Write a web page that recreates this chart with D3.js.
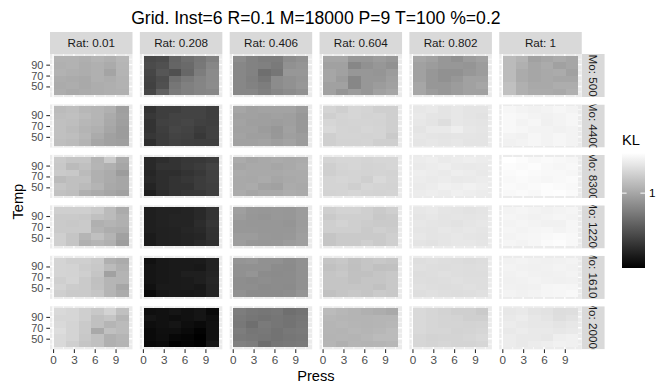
<!DOCTYPE html>
<html>
<head>
<meta charset="utf-8">
<script src="https://cdn.jsdelivr.net/npm/d3@7"></script>
<style>
  body { margin: 0; background: #ffffff; }
  svg { display: block; font-family: "Liberation Sans", Arial, Helvetica, sans-serif; }
</style>
</head>
<body>
<svg id="chart" width="656" height="387"></svg>
<script>
// ---- data -------------------------------------------------------------
const rats = ["0.01", "0.208", "0.406", "0.604", "0.802", "1"];
const mos = ["500", "4400", "8300", "12200", "16100", "20000"];
const pressVals = [1, 2.8, 4.6, 6.4, 8.2, 10];
const tempRows = [100, 88, 76, 64, 52, 40];          // grid rows, top to bottom
const pressTicks = [0, 3, 6, 9];
const tempTicks = [50, 70, 90];
const klTicks = [1];

// KL for each Mo level: one 6x6 block per Rat (rows follow tempRows, columns follow pressVals)
const klMo500 = [
  [[1.07,1.07,1.05,1.08,1.06,1.10],[1.06,1.07,1.04,1.06,1.03,1.09],[1.07,1.05,1.04,1.06,0.99,1.08],[1.04,1.03,1.02,1.06,1.04,1.07],[1.03,1.04,1.02,1.04,1.05,1.07],[1.04,1.02,1.03,1.04,1.05,1.06]],
  [[0.45,0.47,0.61,0.67,0.72,0.78],[0.47,0.50,0.62,0.65,0.73,0.82],[0.44,0.53,0.50,0.63,0.76,0.84],[0.42,0.48,0.68,0.74,0.80,0.84],[0.41,0.50,0.72,0.78,0.81,0.85],[0.44,0.59,0.74,0.78,0.81,0.82]],
  [[0.85,0.79,0.76,0.76,0.85,0.88],[0.82,0.79,0.78,0.74,0.88,0.90],[0.82,0.79,0.68,0.72,0.91,0.91],[0.82,0.78,0.72,0.85,0.88,0.90],[0.82,0.79,0.76,0.85,0.88,0.91],[0.82,0.82,0.78,0.82,0.85,0.88]],
  [[1.00,1.00,0.91,0.91,0.94,0.91],[0.97,0.97,0.82,0.88,0.91,0.88],[1.00,0.97,0.91,0.91,0.90,0.94],[1.00,0.94,0.82,0.91,0.91,0.96],[0.97,0.97,0.82,0.91,0.94,0.97],[0.97,0.90,0.94,0.91,0.97,1.00]],
  [[1.00,0.97,0.91,0.88,0.94,0.97],[0.97,0.94,0.91,0.91,0.90,0.94],[0.97,0.91,0.88,0.88,0.91,0.94],[0.97,0.91,0.88,0.91,0.97,0.97],[1.00,0.91,0.91,0.94,0.97,1.00],[1.00,0.94,0.91,0.94,0.97,0.97]],
  [[1.12,1.08,0.97,1.00,1.03,1.00],[1.12,1.06,1.00,1.03,0.97,1.00],[1.12,1.03,1.00,1.02,1.03,0.97],[1.12,1.03,1.00,1.02,1.00,1.00],[1.15,1.06,1.02,1.02,1.04,1.04],[1.15,1.06,1.03,1.03,1.02,1.06]]
];
const klMo4400 = [
  [[1.12,1.14,1.10,1.09,1.06,0.96],[1.14,1.15,1.12,1.09,1.03,0.97],[1.15,1.14,1.10,1.08,1.02,0.96],[1.15,1.12,1.08,1.06,1.00,0.94],[1.15,1.14,1.10,1.03,0.97,0.94],[1.14,1.12,1.08,1.00,0.97,0.96]],
  [[0.33,0.39,0.39,0.42,0.42,0.39],[0.36,0.39,0.42,0.42,0.42,0.39],[0.33,0.41,0.42,0.44,0.41,0.40],[0.33,0.39,0.44,0.42,0.38,0.41],[0.35,0.38,0.42,0.41,0.36,0.41],[0.30,0.38,0.41,0.40,0.39,0.39]],
  [[1.00,0.97,0.98,0.98,0.98,0.94],[0.97,0.97,0.96,0.97,0.96,0.92],[0.98,0.96,0.96,0.95,0.96,0.92],[0.97,0.97,0.94,0.91,0.97,0.92],[0.98,0.96,0.96,0.92,0.96,0.94],[0.97,0.97,0.98,0.96,0.98,0.94]],
  [[1.27,1.24,1.28,1.27,1.24,1.24],[1.24,1.27,1.28,1.26,1.27,1.24],[1.28,1.26,1.27,1.27,1.26,1.24],[1.30,1.27,1.26,1.28,1.27,1.24],[1.24,1.27,1.27,1.26,1.27,1.21],[1.24,1.26,1.26,1.27,1.24,1.24]],
  [[1.38,1.39,1.36,1.38,1.36,1.36],[1.39,1.37,1.36,1.38,1.36,1.35],[1.38,1.36,1.33,1.38,1.37,1.36],[1.36,1.39,1.39,1.42,1.38,1.37],[1.38,1.37,1.36,1.37,1.37,1.36],[1.37,1.38,1.37,1.38,1.36,1.36]],
  [[1.47,1.45,1.44,1.45,1.47,1.45],[1.48,1.47,1.45,1.44,1.45,1.47],[1.48,1.45,1.47,1.43,1.45,1.47],[1.48,1.47,1.45,1.45,1.44,1.45],[1.45,1.44,1.47,1.45,1.47,1.45],[1.44,1.45,1.47,1.45,1.47,1.45]]
];
const klMo8300 = [
  [[1.21,1.18,1.18,1.08,1.21,1.03],[1.20,1.12,1.15,1.09,1.06,1.00],[1.21,1.20,1.12,1.06,1.03,0.94],[1.12,1.15,1.15,1.06,1.03,1.00],[1.18,1.15,1.12,1.08,1.02,1.00],[1.16,1.14,1.06,1.03,1.00,0.97]],
  [[0.27,0.30,0.33,0.35,0.36,0.38],[0.27,0.33,0.33,0.36,0.38,0.42],[0.25,0.30,0.30,0.33,0.36,0.41],[0.27,0.30,0.33,0.35,0.38,0.41],[0.24,0.30,0.33,0.33,0.38,0.40],[0.21,0.29,0.33,0.35,0.36,0.39]],
  [[1.03,1.00,1.02,1.03,1.02,1.03],[1.00,1.02,1.02,1.00,1.02,1.04],[1.03,1.02,1.02,1.02,1.03,1.03],[1.02,1.01,1.03,1.00,1.02,1.03],[1.02,1.03,0.98,0.97,1.03,1.02],[1.03,1.00,1.02,1.02,1.04,1.03]],
  [[1.27,1.28,1.28,1.27,1.28,1.28],[1.24,1.27,1.28,1.26,1.27,1.28],[1.24,1.26,1.27,1.26,1.27,1.26],[1.27,1.28,1.27,1.24,1.30,1.27],[1.27,1.27,1.24,1.28,1.27,1.26],[1.26,1.27,1.28,1.27,1.26,1.27]],
  [[1.41,1.42,1.40,1.41,1.42,1.41],[1.40,1.41,1.42,1.40,1.39,1.40],[1.42,1.41,1.40,1.42,1.41,1.39],[1.41,1.40,1.41,1.39,1.40,1.41],[1.40,1.41,1.43,1.42,1.44,1.42],[1.41,1.42,1.41,1.43,1.42,1.41]],
  [[1.52,1.50,1.48,1.49,1.48,1.47],[1.50,1.49,1.50,1.48,1.47,1.48],[1.49,1.50,1.49,1.48,1.48,1.47],[1.48,1.49,1.48,1.47,1.48,1.49],[1.49,1.48,1.49,1.50,1.49,1.48],[1.48,1.49,1.48,1.50,1.51,1.49]]
];
const klMo12200 = [
  [[1.24,1.24,1.24,1.21,1.12,1.03],[1.21,1.21,1.20,1.15,1.12,1.06],[1.21,1.20,1.21,1.06,1.08,1.06],[1.21,1.21,1.21,1.08,1.04,1.03],[1.24,1.18,1.09,1.15,1.08,0.97],[1.24,1.18,1.06,1.09,1.06,0.94]],
  [[0.21,0.23,0.23,0.24,0.27,0.33],[0.21,0.23,0.24,0.24,0.27,0.33],[0.21,0.23,0.24,0.24,0.29,0.35],[0.21,0.22,0.23,0.25,0.27,0.33],[0.19,0.22,0.23,0.24,0.25,0.32],[0.18,0.22,0.23,0.24,0.27,0.30]],
  [[0.96,0.92,0.91,0.92,0.91,0.94],[0.94,0.91,0.90,0.92,0.91,0.94],[0.92,0.91,0.91,0.91,0.90,0.94],[0.92,0.92,0.91,0.91,0.91,0.95],[0.94,0.94,0.92,0.91,0.92,0.96],[0.95,0.92,0.91,0.92,0.94,0.96]],
  [[1.24,1.26,1.26,1.24,1.21,1.24],[1.21,1.24,1.24,1.24,1.20,1.21],[1.24,1.26,1.24,1.22,1.21,1.21],[1.24,1.24,1.24,1.21,1.24,1.22],[1.18,1.21,1.21,1.21,1.21,1.24],[1.18,1.21,1.21,1.24,1.21,1.24]],
  [[1.38,1.39,1.37,1.36,1.35,1.36],[1.37,1.38,1.36,1.37,1.36,1.37],[1.38,1.37,1.36,1.35,1.37,1.38],[1.37,1.36,1.38,1.37,1.38,1.37],[1.38,1.36,1.37,1.38,1.37,1.36],[1.36,1.35,1.37,1.38,1.38,1.37]],
  [[1.45,1.46,1.45,1.44,1.45,1.46],[1.46,1.45,1.44,1.45,1.46,1.45],[1.45,1.46,1.45,1.44,1.44,1.47],[1.46,1.45,1.46,1.47,1.45,1.47],[1.45,1.46,1.47,1.48,1.49,1.48],[1.46,1.45,1.47,1.49,1.50,1.48]]
];
const klMo16100 = [
  [[1.27,1.24,1.24,1.21,1.06,1.03],[1.27,1.26,1.22,1.20,1.12,1.06],[1.27,1.26,1.24,1.18,0.97,1.08],[1.24,1.27,1.21,1.15,1.09,1.08],[1.26,1.22,1.21,1.16,1.09,1.00],[1.24,1.21,1.21,1.18,1.09,1.03]],
  [[0.13,0.17,0.18,0.18,0.19,0.23],[0.15,0.17,0.18,0.18,0.17,0.23],[0.15,0.17,0.18,0.21,0.21,0.24],[0.15,0.17,0.18,0.19,0.21,0.25],[0.13,0.18,0.18,0.19,0.17,0.24],[0.09,0.15,0.17,0.17,0.18,0.24]],
  [[0.90,0.91,0.88,0.88,0.85,0.88],[0.88,0.88,0.88,0.85,0.84,0.88],[0.88,0.90,0.85,0.84,0.85,0.88],[0.86,0.85,0.86,0.85,0.85,0.88],[0.86,0.86,0.84,0.85,0.84,0.88],[0.88,0.85,0.85,0.85,0.86,0.90]],
  [[1.18,1.20,1.16,1.18,1.20,1.18],[1.16,1.18,1.15,1.18,1.15,1.16],[1.18,1.20,1.16,1.16,1.18,1.20],[1.18,1.18,1.16,1.18,1.18,1.20],[1.18,1.18,1.18,1.18,1.16,1.20],[1.16,1.18,1.20,1.18,1.21,1.20]],
  [[1.33,1.34,1.33,1.32,1.31,1.32],[1.34,1.33,1.32,1.33,1.32,1.33],[1.32,1.33,1.34,1.33,1.32,1.32],[1.33,1.32,1.33,1.34,1.33,1.33],[1.34,1.33,1.32,1.33,1.34,1.33],[1.33,1.34,1.33,1.32,1.33,1.34]],
  [[1.44,1.45,1.44,1.43,1.44,1.45],[1.45,1.44,1.43,1.44,1.45,1.44],[1.44,1.45,1.44,1.43,1.44,1.45],[1.43,1.44,1.45,1.44,1.43,1.44],[1.44,1.43,1.44,1.46,1.47,1.46],[1.45,1.44,1.45,1.46,1.47,1.48]]
];
const klMo20000 = [
  [[1.30,1.28,1.24,1.20,1.26,1.15],[1.28,1.28,1.24,1.15,1.18,1.09],[1.30,1.27,1.21,1.15,1.09,1.12],[1.32,1.27,1.21,1.02,1.15,1.12],[1.30,1.27,1.20,1.15,1.06,1.09],[1.30,1.24,1.18,1.15,1.06,1.08]],
  [[0.12,0.13,0.15,0.13,0.15,0.09],[0.15,0.13,0.11,0.13,0.15,0.12],[0.11,0.13,0.15,0.11,0.09,0.13],[0.09,0.12,0.12,0.09,0.05,0.13],[0.09,0.11,0.07,0.06,0.03,0.13],[0.07,0.09,0.03,0.05,0.03,0.15]],
  [[0.76,0.73,0.72,0.73,0.68,0.70],[0.74,0.72,0.70,0.72,0.70,0.72],[0.73,0.68,0.74,0.72,0.70,0.73],[0.76,0.72,0.73,0.70,0.73,0.74],[0.74,0.73,0.72,0.70,0.72,0.73],[0.78,0.76,0.67,0.72,0.73,0.74]],
  [[1.12,1.10,1.08,1.06,1.04,1.02],[1.10,1.09,1.08,1.08,1.09,1.09],[1.09,1.10,1.09,1.08,1.09,1.10],[1.09,1.08,1.10,1.09,1.10,1.12],[1.08,1.09,1.08,1.10,1.12,1.12],[1.09,1.06,1.09,1.08,1.09,1.10]],
  [[1.30,1.28,1.26,1.24,1.24,1.21],[1.30,1.28,1.27,1.26,1.24,1.24],[1.30,1.28,1.27,1.27,1.26,1.27],[1.30,1.28,1.28,1.26,1.27,1.28],[1.28,1.26,1.27,1.27,1.28,1.30],[1.28,1.27,1.28,1.27,1.27,1.28]],
  [[1.38,1.39,1.36,1.35,1.32,1.33],[1.39,1.41,1.38,1.36,1.33,1.35],[1.41,1.39,1.38,1.38,1.36,1.38],[1.39,1.41,1.39,1.39,1.38,1.39],[1.41,1.39,1.39,1.38,1.42,1.43],[1.41,1.39,1.41,1.42,1.44,1.43]]
];
const klByMo = [klMo500, klMo4400, klMo8300, klMo12200, klMo16100, klMo20000];

// ---- layout -----------------------------------------------------------
const svg = d3.select("#chart");
const panelW = 82.5, panelH = 43.1, gap = 7.35;
const panelsLeft = 50, panelsTop = 54;
const stripTopH = 22, stripRightW = 23;
const panelX = c => panelsLeft + c * (panelW + gap);
const panelY = r => panelsTop + r * (panelH + gap);
const panelsRight = panelX(rats.length - 1) + panelW;
const panelsBottom = panelY(mos.length - 1) + panelH;

// tidy cell list
const cells = [];
mos.forEach((mo, r) => rats.forEach((rat, c) => tempRows.forEach((temp, i) =>
  pressVals.forEach((press, j) => cells.push({ r, c, mo, rat, temp, press, kl: klByMo[r][c][i][j] })))));

// tile sizes from the grid spacing, limits expanded by 5% like a continuous scale
const tileW = pressVals[1] - pressVals[0];
const tileH = tempRows[0] - tempRows[1];
function expanded(lo, hi) { const d = (hi - lo) * 0.05; return [lo - d, hi + d]; }
const xDom = expanded(d3.min(pressVals) - tileW / 2, d3.max(pressVals) + tileW / 2);
const yDom = expanded(d3.min(tempRows) - tileH / 2, d3.max(tempRows) + tileH / 2);
const x = d3.scaleLinear().domain(xDom).range([0, panelW]);
const y = d3.scaleLinear().domain(yDom).range([panelH, 0]);

const klExtent = d3.extent(cells, d => d.kl);
const fill = d3.scaleLinear().domain(klExtent).range(["#000000", "#ffffff"]).interpolate(d3.interpolateRgb);

// minor breaks half way between major ones
function minorBreaks(major, dom) {
  const step = major[1] - major[0];
  const out = [];
  for (let v = major[0] - step / 2; v <= dom[1]; v += step) if (v >= dom[0]) out.push(v);
  return out;
}
const xMinor = minorBreaks(pressTicks, xDom);
const yMinor = minorBreaks(tempTicks, yDom);

// ---- title --------------------------------------------------------------
svg.append("text")
  .attr("x", (panelsLeft + panelsRight) / 2).attr("y", 23.5)
  .attr("text-anchor", "middle").attr("font-size", 17.6).attr("fill", "#000")
  .text("Grid. Inst=6 R=0.1 M=18000 P=9 T=100 %=0.2");

// ---- panels -------------------------------------------------------------
const defs = svg.append("defs");
mos.forEach((mo, r) => rats.forEach((rat, c) => {
  const g = svg.append("g").attr("transform", `translate(${panelX(c)},${panelY(r)})`);
  g.append("rect").attr("width", panelW).attr("height", panelH).attr("fill", "#EBEBEB");
  // grid lines
  g.selectAll(".xmin").data(xMinor).join("line")
    .attr("x1", d => x(d)).attr("x2", d => x(d)).attr("y1", 0).attr("y2", panelH)
    .attr("stroke", "#fff").attr("stroke-width", 0.7);
  g.selectAll(".ymin").data(yMinor).join("line")
    .attr("y1", d => y(d)).attr("y2", d => y(d)).attr("x1", 0).attr("x2", panelW)
    .attr("stroke", "#fff").attr("stroke-width", 0.7);
  g.selectAll(".xmaj").data(pressTicks).join("line")
    .attr("x1", d => x(d)).attr("x2", d => x(d)).attr("y1", 0).attr("y2", panelH)
    .attr("stroke", "#fff").attr("stroke-width", 1.4);
  g.selectAll(".ymaj").data(tempTicks).join("line")
    .attr("y1", d => y(d)).attr("y2", d => y(d)).attr("x1", 0).attr("x2", panelW)
    .attr("stroke", "#fff").attr("stroke-width", 1.4);
  // tiles
  g.selectAll("rect.tile").data(cells.filter(d => d.r === r && d.c === c)).join("rect")
    .attr("class", "tile")
    .attr("x", d => x(d.press - tileW / 2))
    .attr("y", d => y(d.temp + tileH / 2))
    .attr("width", x(tileW) - x(0))
    .attr("height", y(0) - y(tileH))
    .attr("fill", d => fill(d.kl))
    .attr("shape-rendering", "crispEdges");
}));

// ---- strips -----------------------------------------------------------
rats.forEach((rat, c) => {
  svg.append("rect").attr("x", panelX(c)).attr("y", panelsTop - stripTopH)
    .attr("width", panelW).attr("height", stripTopH).attr("fill", "#D9D9D9");
  svg.append("text").attr("x", panelX(c) + panelW / 2).attr("y", panelsTop - stripTopH / 2)
    .attr("dy", "0.35em").attr("text-anchor", "middle").attr("font-size", 11.7)
    .attr("fill", "#1A1A1A").text("Rat: " + rat);
});
mos.forEach((mo, r) => {
  const id = "strip-clip-" + r;
  defs.append("clipPath").attr("id", id).append("rect")
    .attr("x", panelsRight).attr("y", panelY(r)).attr("width", stripRightW).attr("height", panelH);
  const g = svg.append("g").attr("clip-path", `url(#${id})`);
  g.append("rect").attr("x", panelsRight).attr("y", panelY(r))
    .attr("width", stripRightW).attr("height", panelH).attr("fill", "#D9D9D9");
  const cx = panelsRight + stripRightW / 2, cy = panelY(r) + panelH / 2;
  g.append("text").attr("transform", `translate(${cx},${cy}) rotate(90)`)
    .attr("dy", "0.35em").attr("text-anchor", "middle").attr("font-size", 11.7)
    .attr("fill", "#1A1A1A").text("Mo: " + mo);
});

// ---- axes -------------------------------------------------------------
function styleAxis(sel, size) {
  sel.select(".domain").remove();
  sel.selectAll(".tick line").attr("stroke", "#333333").attr("stroke-width", 1.1);
  sel.selectAll(".tick text").attr("fill", "#4D4D4D").attr("font-size", size)
    .attr("font-family", "\"Liberation Sans\", Arial, Helvetica, sans-serif");
}
mos.forEach((mo, r) => {
  svg.append("g").attr("transform", `translate(${panelsLeft},${panelY(r)})`)
    .call(d3.axisLeft(y).tickValues(tempTicks).tickSize(3.7).tickPadding(2.9).tickFormat(d3.format("d")))
    .call(styleAxis, 11);
});
rats.forEach((rat, c) => {
  svg.append("g").attr("transform", `translate(${panelX(c)},${panelsBottom})`)
    .call(d3.axisBottom(x).tickValues(pressTicks).tickSize(3.7).tickPadding(2.9).tickFormat(d3.format("d")))
    .call(styleAxis, 11.7);
});

// axis titles
svg.append("text").attr("x", (panelsLeft + panelsRight) / 2).attr("y", 380.5)
  .attr("text-anchor", "middle").attr("font-size", 14.67).attr("fill", "#000").text("Press");
svg.append("text").attr("transform", `translate(23,${(panelsTop + panelsBottom) / 2}) rotate(-90)`)
  .attr("text-anchor", "middle").attr("font-size", 14.67).attr("fill", "#000").text("Temp");

// ---- colour bar legend -----------------------------------------------
const barX = 622, barTop = 153, barW = 23, barH = 115;
const grad = defs.append("linearGradient").attr("id", "kl-grad")
  .attr("x1", 0).attr("y1", 1).attr("x2", 0).attr("y2", 0);
d3.range(0, 1.0001, 0.05).forEach(t => {
  grad.append("stop").attr("offset", t)
    .attr("stop-color", fill(klExtent[0] + t * (klExtent[1] - klExtent[0])));
});
svg.append("text").attr("x", barX).attr("y", barTop - 8).attr("font-size", 14.67)
  .attr("fill", "#000").text("KL");
svg.append("rect").attr("x", barX).attr("y", barTop).attr("width", barW).attr("height", barH)
  .attr("fill", "url(#kl-grad)");
const legY = d3.scaleLinear().domain(klExtent).range([barTop + barH, barTop]);
klTicks.forEach(v => {
  const ty = legY(v);
  svg.append("line").attr("x1", barX).attr("x2", barX + barW / 5).attr("y1", ty).attr("y2", ty)
    .attr("stroke", "#fff").attr("stroke-width", 1);
  svg.append("line").attr("x1", barX + barW * 4 / 5).attr("x2", barX + barW).attr("y1", ty).attr("y2", ty)
    .attr("stroke", "#fff").attr("stroke-width", 1);
  svg.append("text").attr("x", barX + barW + 4).attr("y", ty).attr("dy", "0.35em")
    .attr("font-size", 11.7).attr("fill", "#000").text(d3.format("d")(v));
});
</script>
</body>
</html>
